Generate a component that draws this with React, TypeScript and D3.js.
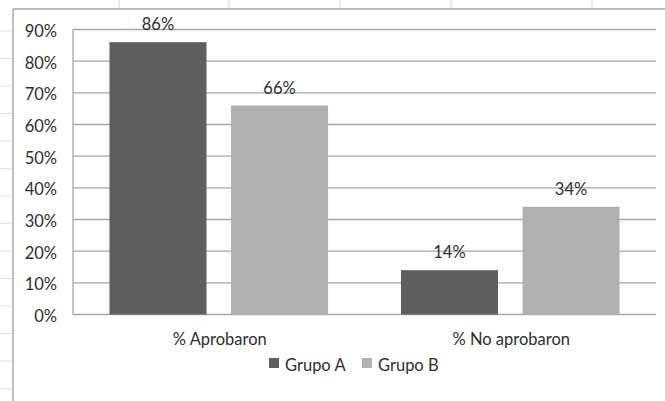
import React from "react";
import * as d3 from "d3";

const categories = ["% Aprobaron", "% No aprobaron"];
const seriesNames = ["Grupo A", "Grupo B"];
const grupoA = [0.86, 0.14];
const grupoB = [0.66, 0.34];
const yTicks = [0, 0.1, 0.2, 0.3, 0.4, 0.5, 0.6, 0.7, 0.8, 0.9];
const colors = ["#5f5f5f", "#b1b1b1"];

const W = 665;
const H = 401;
const FONT = "Lato, 'Open Sans', sans-serif";
const TEXT = "#2e2e2e";
const FS = 16.5;

export default function App() {
  const y = d3.scaleLinear().domain([0, 0.9]).range([314.5, 29.5]);
  const x0 = d3.scaleBand<string>().domain(categories).range([73, 656]).padding(0);
  const x1 = d3
    .scaleBand<string>()
    .domain(seriesNames)
    .range([0, x0.bandwidth()])
    .paddingInner(0.2016)
    .paddingOuter(0.3);
  const values = [grupoA, grupoB];
  const fmt = d3.format(".0%");

  const rowMarks = d3.range(31, 400, 27.5);
  const colMarks = [119, 229, 340, 451, 592];

  return (
    <svg
      width={W}
      height={H}
      style={{ position: "fixed", left: 0, top: 0, background: "#fff" }}
      fontFamily={FONT}
    >
      <rect x={0} y={0} width={W} height={H} fill="#fff" />
      {rowMarks.map((r) => (
        <line key={"r" + r} x1={0} x2={12} y1={r} y2={r} stroke="#e2e2e2" strokeWidth={1} />
      ))}
      {colMarks.map((c) => (
        <line key={"c" + c} x1={c} x2={c} y1={0} y2={8} stroke="#e4e4e4" strokeWidth={1.5} />
      ))}
      <line x1={13} x2={W} y1={9} y2={9} stroke="#a8a8a8" strokeWidth={1.5} />
      <line x1={13} x2={13} y1={9} y2={H} stroke="#a8a8a8" strokeWidth={1.5} />

      {yTicks.map((t) => (
        <line
          key={"g" + t}
          x1={73}
          x2={656}
          y1={y(t)}
          y2={y(t)}
          stroke="#a6a6a6"
          strokeWidth={1.3}
        />
      ))}
      <line x1={73} x2={73} y1={y(0.9)} y2={y(0)} stroke="#a6a6a6" strokeWidth={1.3} />

      {yTicks.map((t) => (
        <text
          key={"t" + t}
          x={57}
          y={y(t) + 7.5}
          textAnchor="end"
          fontSize={FS}
          fill={TEXT}
        >
          {fmt(t)}
        </text>
      ))}

      {categories.map((cat, ci) => (
        <g key={cat} transform={`translate(${x0(cat)},0)`}>
          {seriesNames.map((s, si) => {
            const v = values[si][ci];
            const bx = x1(s)!;
            return (
              <g key={s}>
                <rect
                  x={bx}
                  y={y(v)}
                  width={x1.bandwidth()}
                  height={y(0) - y(v)}
                  fill={colors[si]}
                />
                <text
                  x={bx + x1.bandwidth() / 2}
                  y={y(v) - 12}
                  textAnchor="middle"
                  fontSize={FS}
                  fill={TEXT}
                >
                  {fmt(v)}
                </text>
              </g>
            );
          })}
          <text
            x={x0.bandwidth() / 2 + 1}
            y={344.5}
            textAnchor="middle"
            fontSize={FS}
            fill={TEXT}
          >
            {cat}
          </text>
        </g>
      ))}

      {seriesNames.map((s, i) => {
        const lx = [269, 362][i];
        return (
          <g key={"l" + s}>
            <rect x={lx} y={358} width={10} height={10} fill={colors[i]} />
            <text x={lx + 16} y={370.5} fontSize={FS} fill={TEXT}>
              {s}
            </text>
          </g>
        );
      })}
    </svg>
  );
}
